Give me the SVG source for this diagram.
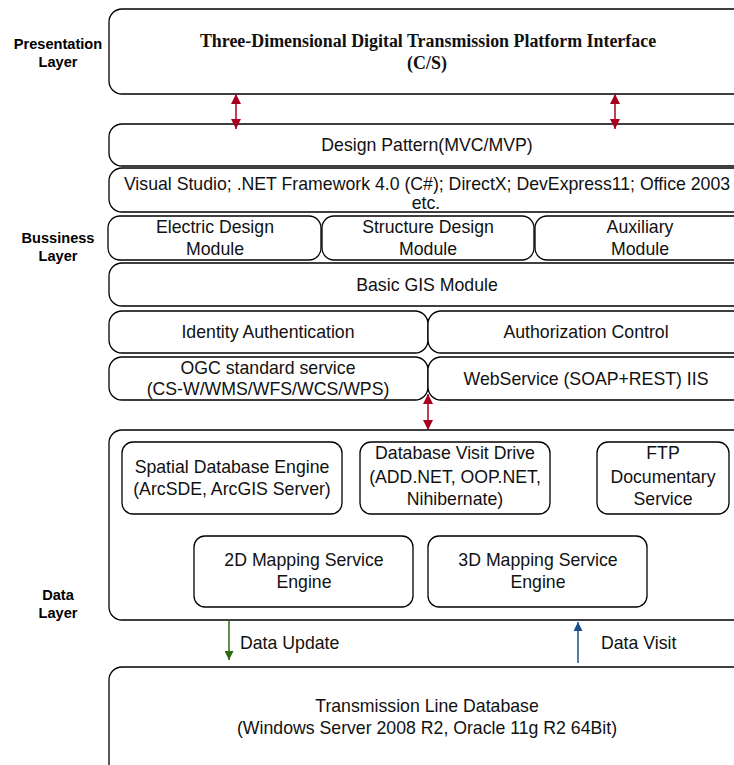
<svg xmlns="http://www.w3.org/2000/svg" width="734" height="765" viewBox="0 0 734 765">
<defs>
<style>
.box{fill:#fff;stroke:#000;stroke-width:1.3}
.t{font-family:"Liberation Sans",Arial,sans-serif;font-size:17.7px;fill:#111;text-anchor:middle}
.lay{font-family:"Liberation Sans",Arial,sans-serif;font-size:14.6px;font-weight:bold;fill:#000;text-anchor:middle}
.title{font-family:"Liberation Serif","Times New Roman",serif;font-size:17.9px;font-weight:bold;fill:#111;text-anchor:middle}
.red{stroke:#a8001f;stroke-width:1.5;fill:none}
</style>
<marker id="rh2" viewBox="0 0 10 10" refX="10" refY="5" markerWidth="12" markerHeight="10" markerUnits="userSpaceOnUse" orient="auto-start-reverse">
<path d="M0,0 L10,5 L0,10 z" fill="#a8001f"/>
</marker>
<marker id="gh" viewBox="0 0 10 10" refX="10" refY="5" markerWidth="12" markerHeight="9" markerUnits="userSpaceOnUse" orient="auto">
<path d="M0,0 L10,5 L0,10 z" fill="#2f6a10"/>
</marker>
<marker id="bh" viewBox="0 0 10 10" refX="10" refY="5" markerWidth="12" markerHeight="9" markerUnits="userSpaceOnUse" orient="auto">
<path d="M0,0 L10,5 L0,10 z" fill="#1d4f8a"/>
</marker>
</defs>
<rect width="734" height="765" fill="#fff"/>

<g id="layer-labels">
<text class="lay" x="58" y="49">Presentation</text>
<text class="lay" x="58" y="67">Layer</text>
<text class="lay" x="58" y="243">Bussiness</text>
<text class="lay" x="58" y="261">Layer</text>
<text class="lay" x="58" y="600">Data</text>
<text class="lay" x="58" y="618">Layer</text>
</g>

<g id="presentation">
<rect class="box" x="109" y="9" width="640" height="85" rx="13"/>
<text class="title" x="428" y="47">Three-Dimensional Digital Transmission Platform Interface</text>
<text class="title" x="427" y="69">(C/S)</text>
</g>

<g id="design-pattern">
<rect class="box" x="109" y="124" width="640" height="42" rx="13"/>
<text class="t" x="427" y="151">Design Pattern(MVC/MVP)</text>
</g>

<g id="tools">
<rect class="box" x="109" y="168" width="640" height="44" rx="13"/>
<text class="t" x="427" y="190">Visual Studio; .NET Framework 4.0 (C#); DirectX; DevExpress11; Office 2003</text>
<text class="t" x="426" y="209">etc.</text>
</g>

<g id="electric">
<rect class="box" x="108" y="216" width="213" height="44" rx="12"/>
<text class="t" x="215" y="233">Electric Design</text>
<text class="t" x="215" y="255">Module</text>
</g>
<g id="structure">
<rect class="box" x="322" y="216" width="212" height="44" rx="12"/>
<text class="t" x="428" y="233">Structure Design</text>
<text class="t" x="428" y="255">Module</text>
</g>
<g id="auxiliary">
<rect class="box" x="535" y="216" width="214" height="44" rx="12"/>
<text class="t" x="640" y="233">Auxiliary</text>
<text class="t" x="640" y="255">Module</text>
</g>

<g id="basic-gis">
<rect class="box" x="109" y="263" width="640" height="43" rx="13"/>
<text class="t" x="427" y="291">Basic GIS Module</text>
</g>

<g id="identity">
<rect class="box" x="109" y="311" width="319" height="42" rx="13"/>
<text class="t" x="268" y="338">Identity Authentication</text>
</g>
<g id="authorization">
<rect class="box" x="428" y="311" width="321" height="42" rx="13"/>
<text class="t" x="586" y="338">Authorization Control</text>
</g>

<g id="ogc">
<rect class="box" x="109" y="357" width="319" height="43" rx="13"/>
<text class="t" x="268" y="374">OGC standard service</text>
<text class="t" x="268" y="395">(CS-W/WMS/WFS/WCS/WPS)</text>
</g>
<g id="webservice">
<rect class="box" x="428" y="357" width="321" height="43" rx="13"/>
<text class="t" x="586" y="385">WebService (SOAP+REST) IIS</text>
</g>

<g id="data-layer">
<rect class="box" x="109" y="430" width="640" height="190" rx="13"/>
</g>
<g id="spatial">
<rect class="box" x="122" y="442" width="220" height="72" rx="11"/>
<text class="t" x="232" y="473">Spatial Database Engine</text>
<text class="t" x="232" y="495">(ArcSDE, ArcGIS Server)</text>
</g>
<g id="db-visit">
<rect class="box" x="360" y="442" width="190" height="72" rx="11"/>
<text class="t" x="455" y="459">Database Visit Drive</text>
<text class="t" x="455" y="483">(ADD.NET, OOP.NET,</text>
<text class="t" x="455" y="505">Nihibernate)</text>
</g>
<g id="ftp">
<rect class="box" x="597" y="442" width="132" height="72" rx="11"/>
<text class="t" x="663" y="459">FTP</text>
<text class="t" x="663" y="483">Documentary</text>
<text class="t" x="663" y="505">Service</text>
</g>
<g id="map2d">
<rect class="box" x="194" y="536" width="219" height="71" rx="11"/>
<text class="t" x="304" y="566">2D Mapping Service</text>
<text class="t" x="304" y="588">Engine</text>
</g>
<g id="map3d">
<rect class="box" x="428" y="536" width="219" height="71" rx="11"/>
<text class="t" x="538" y="566">3D Mapping Service</text>
<text class="t" x="538" y="588">Engine</text>
</g>

<g id="database">
<rect class="box" x="109" y="667" width="640" height="110" rx="13"/>
<text class="t" x="427" y="712">Transmission Line Database</text>
<text class="t" x="427" y="734">(Windows Server 2008 R2, Oracle 11g R2 64Bit)</text>
</g>

<g id="connectors">
<line class="red" x1="236" y1="94" x2="236" y2="129" marker-start="url(#rh2)" marker-end="url(#rh2)"/>
<line class="red" x1="615" y1="94" x2="615" y2="129" marker-start="url(#rh2)" marker-end="url(#rh2)"/>
<line class="red" x1="428" y1="394" x2="428" y2="430" marker-start="url(#rh2)" marker-end="url(#rh2)"/>
<line x1="229" y1="620" x2="229" y2="660" stroke="#2f6a10" stroke-width="1.5" marker-end="url(#gh)"/>
<line x1="578" y1="663" x2="578" y2="622" stroke="#1d4f8a" stroke-width="1.5" marker-end="url(#bh)"/>
<text class="t" x="240" y="649" style="text-anchor:start">Data Update</text>
<text class="t" x="601" y="649" style="text-anchor:start">Data Visit</text>
</g>
</svg>
